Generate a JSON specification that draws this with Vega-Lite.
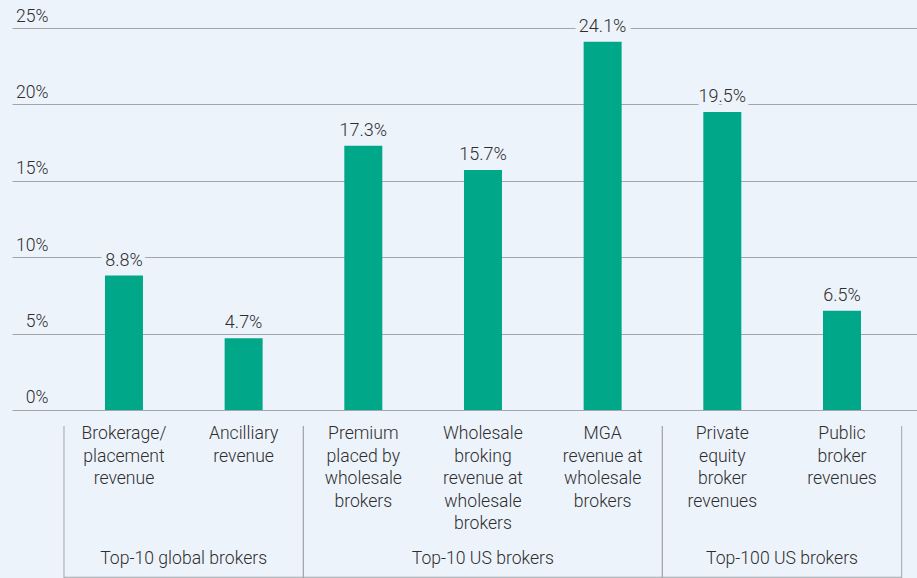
{
  "$schema": "https://vega.github.io/schema/vega-lite/v6.json",
  "width": 905,
  "height": 550,
  "autosize": "none",
  "padding": {"left": 12, "top": 28, "right": 0, "bottom": 0},
  "background": "#edf3fb",
  "config": {"view": {"stroke": null}, "font": "Roboto"},
  "layer": [
    {
      "data": {"values": [
        {"category": "Brokerage/\nplacement\nrevenue", "value": 0.088},
        {"category": "Ancilliary\nrevenue", "value": 0.047},
        {"category": "Premium\nplaced by\nwholesale\nbrokers", "value": 0.173},
        {"category": "Wholesale\nbroking\nrevenue at\nwholesale\nbrokers", "value": 0.157},
        {"category": "MGA\nrevenue at\nwholesale\nbrokers", "value": 0.241},
        {"category": "Private\nequity\nbroker\nrevenues", "value": 0.195},
        {"category": "Public\nbroker\nrevenues", "value": 0.065}
      ]},
      "encoding": {
        "x": {"field": "category", "type": "nominal", "sort": null, "axis": null,
              "scale": {"paddingInner": 0.6825, "paddingOuter": 0.6225, "align": 0.624}}
      },
      "layer": [
        {
          "mark": {"type": "bar", "color": "#00a788"},
          "encoding": {
            "y": {"field": "value", "type": "quantitative",
                  "scale": {"domain": [-0.11, 0.25], "nice": false, "zero": false},
                  "axis": {"values": [0, 0.05, 0.1, 0.15, 0.2, 0.25], "format": ".0%", "title": null,
                           "domain": false, "ticks": false, "tickSize": 0, "grid": true,
                           "gridColor": "#a2a6ad", "gridWidth": 1,
                           "labelAlign": "right", "labelBaseline": "alphabetic", "labelPadding": -36,
                           "labelOffset": -7, "labelFont": "Roboto", "labelFontWeight": 300, "labelFontSize": 17.6, "labelColor": "#2e2e2e"}}
          }
        },
        {
          "mark": {"type": "text", "baseline": "alphabetic", "dy": -10, "fontSize": 18, "font": "Roboto", "fontWeight": 300,
                   "color": "#edf3fb", "stroke": "#edf3fb", "strokeWidth": 10, "strokeJoin": "miter"},
          "encoding": {
            "y": {"field": "value", "type": "quantitative"},
            "text": {"field": "value", "type": "quantitative", "format": ".1%"}
          }
        },
        {
          "mark": {"type": "text", "baseline": "alphabetic", "dy": -10, "fontSize": 18, "font": "Roboto", "fontWeight": 300, "color": "#2e2e2e"},
          "encoding": {
            "y": {"field": "value", "type": "quantitative"},
            "text": {"field": "value", "type": "quantitative", "format": ".1%"}
          }
        },
        {
          "mark": {"type": "text", "baseline": "top", "lineBreak": "\n", "lineHeight": 22.5, "fontSize": 17.6,
                   "font": "Roboto", "fontWeight": 300, "color": "#2e2e2e"},
          "encoding": {
            "y": {"datum": -0.01, "type": "quantitative"},
            "text": {"field": "category"}
          }
        }
      ]
    },
    {
      "data": {"values": [
        {"group": "Top-10 global brokers", "start": 0, "end": 2, "center": 1},
        {"group": "Top-10 US brokers", "start": 2, "end": 5, "center": 3.5},
        {"group": "Top-100 US brokers", "start": 5, "end": 7, "center": 6}
      ]},
      "layer": [
        {
          "mark": {"type": "rule", "color": "#a2a6ad", "strokeWidth": 1},
          "encoding": {
            "x": {"field": "start", "type": "quantitative", "axis": null,
                  "scale": {"domain": [-0.4345, 7.128], "nice": false, "zero": false}},
            "y": {"datum": -0.0105, "type": "quantitative"},
            "y2": {"datum": -0.11}
          }
        },
        {
          "mark": {"type": "rule", "color": "#a2a6ad", "strokeWidth": 1},
          "encoding": {
            "x": {"field": "end", "type": "quantitative", "axis": null},
            "y": {"datum": -0.0105, "type": "quantitative"},
            "y2": {"datum": -0.11}
          }
        },
        {
          "mark": {"type": "rule", "color": "#a2a6ad", "strokeWidth": 1},
          "encoding": {
            "x": {"field": "start", "type": "quantitative", "axis": null},
            "x2": {"field": "end"},
            "y": {"datum": -0.1095, "type": "quantitative"}
          }
        },
        {
          "mark": {"type": "text", "baseline": "alphabetic", "fontSize": 17.6, "font": "Roboto", "fontWeight": 300, "color": "#2e2e2e"},
          "encoding": {
            "x": {"field": "center", "type": "quantitative", "axis": null},
            "y": {"datum": -0.1008, "type": "quantitative"},
            "text": {"field": "group"}
          }
        }
      ]
    }
  ],
  "resolve": {"scale": {"x": "independent"}}
}
